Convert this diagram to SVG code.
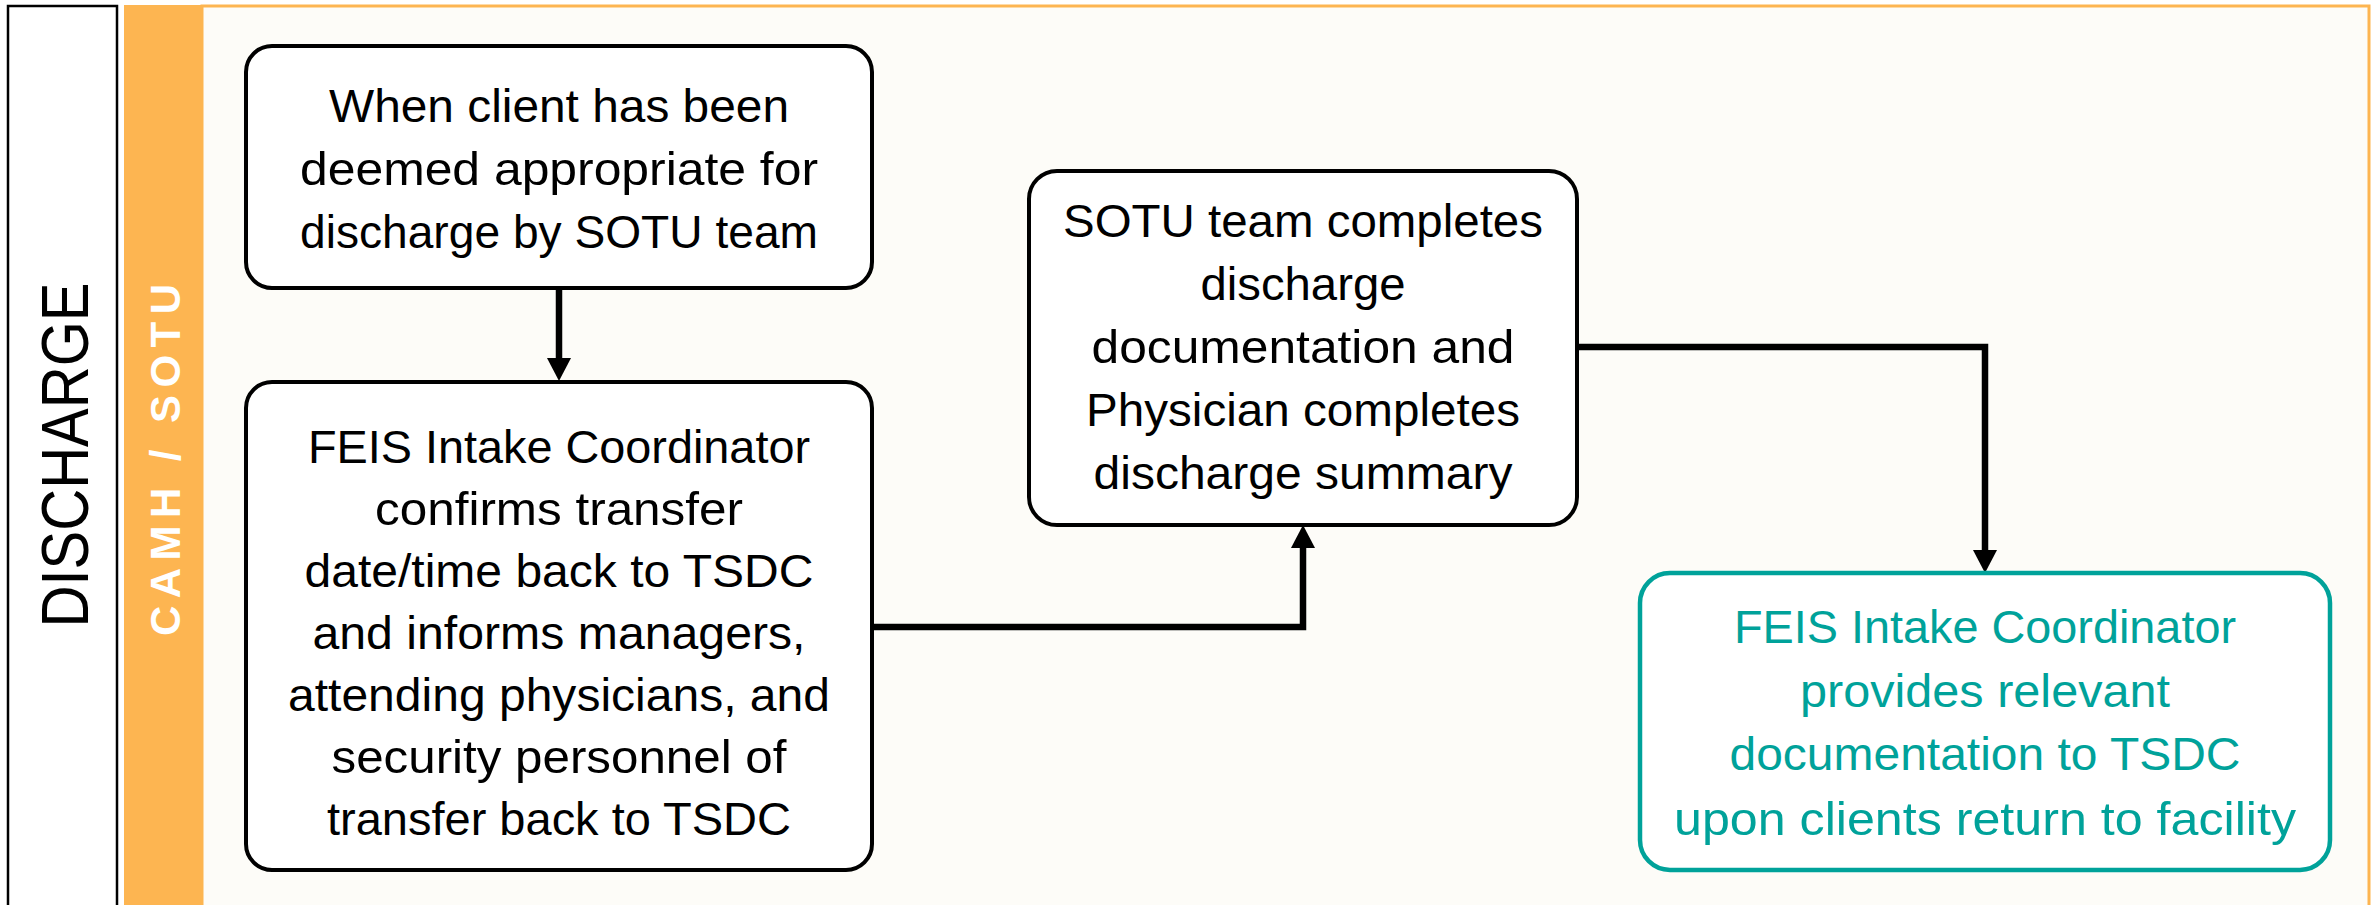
<svg xmlns="http://www.w3.org/2000/svg" width="2379" height="905" viewBox="0 0 2379 905">
  <style>
    .lane-title { font-family: "Liberation Sans", Arial, sans-serif; font-size: 67px; fill: #000; }
    .lane-sub { font-family: "Liberation Sans", Arial, sans-serif; font-size: 42px; font-weight: bold; fill: #fff; }
    .box { fill: #fff; stroke: #000; stroke-width: 4; }
    .box-teal { fill: #fff; stroke: #00a29a; stroke-width: 4.5; }
    .lbl { font-family: "Liberation Sans", Arial, sans-serif; font-size: 47px; fill: #000; text-anchor: middle; }
    .lbl-teal { fill: #00a29a; }
    .conn { fill: none; stroke: #000; stroke-width: 6.5; stroke-linejoin: miter; }
  </style>
  <defs>
    <marker id="arrow" markerUnits="userSpaceOnUse" markerWidth="24" markerHeight="24" refX="0" refY="12" orient="auto" viewBox="0 0 24 24">
      <path d="M0,0 L23,12 L0,24 Z" fill="#000"/>
    </marker>
  </defs>

  <!-- swimlane frame -->
  <g id="lane">
    <rect x="8" y="6" width="109" height="920" fill="#fff" stroke="#000" stroke-width="2.5"/>
    <rect x="124" y="5" width="78" height="920" fill="#fdb551"/>
    <rect x="202" y="6" width="2167" height="920" fill="#fdfcf8" stroke="#fdb551" stroke-width="3"/>
    <text class="lane-title" transform="translate(88,455) rotate(-90)" text-anchor="middle" textLength="345" lengthAdjust="spacingAndGlyphs">DISCHARGE</text>
    <text class="lane-sub" transform="translate(180,460) rotate(-90)" text-anchor="middle" textLength="352" lengthAdjust="spacing">CAMH / SOTU</text>
  </g>

  <!-- connectors -->
  <g id="connectors">
    <path class="conn" d="M559,288 L559,358" marker-end="url(#arrow)"/>
    <path class="conn" d="M872,627 L1303,627 L1303,548" marker-end="url(#arrow)"/>
    <path class="conn" d="M1577,347 L1985,347 L1985,550" marker-end="url(#arrow)"/>
  </g>

  <g id="node-deemed">
    <rect class="box" x="246" y="46" width="626" height="242" rx="26"/>
    <text class="lbl" x="559" y="122" textLength="460" lengthAdjust="spacingAndGlyphs">When client has been</text>
    <text class="lbl" x="559" y="185" textLength="518" lengthAdjust="spacingAndGlyphs">deemed appropriate for</text>
    <text class="lbl" x="559" y="248" textLength="518" lengthAdjust="spacingAndGlyphs">discharge by SOTU team</text>
  </g>

  <g id="node-confirm">
    <rect class="box" x="246" y="382" width="626" height="488" rx="26"/>
    <text class="lbl" x="559" y="463" textLength="502" lengthAdjust="spacingAndGlyphs">FEIS Intake Coordinator</text>
    <text class="lbl" x="559" y="525" textLength="368" lengthAdjust="spacingAndGlyphs">confirms transfer</text>
    <text class="lbl" x="559" y="587" textLength="509" lengthAdjust="spacingAndGlyphs">date/time back to TSDC</text>
    <text class="lbl" x="559" y="649" textLength="493" lengthAdjust="spacingAndGlyphs">and informs managers,</text>
    <text class="lbl" x="559" y="711" textLength="542" lengthAdjust="spacingAndGlyphs">attending physicians, and</text>
    <text class="lbl" x="559" y="773" textLength="455" lengthAdjust="spacingAndGlyphs">security personnel of</text>
    <text class="lbl" x="559" y="835" textLength="464" lengthAdjust="spacingAndGlyphs">transfer back to TSDC</text>
  </g>

  <g id="node-documentation">
    <rect class="box" x="1029" y="171" width="548" height="354" rx="28"/>
    <text class="lbl" x="1303" y="237" textLength="480" lengthAdjust="spacingAndGlyphs">SOTU team completes</text>
    <text class="lbl" x="1303" y="300" textLength="205" lengthAdjust="spacingAndGlyphs">discharge</text>
    <text class="lbl" x="1303" y="363" textLength="423" lengthAdjust="spacingAndGlyphs">documentation and</text>
    <text class="lbl" x="1303" y="426" textLength="434" lengthAdjust="spacingAndGlyphs">Physician completes</text>
    <text class="lbl" x="1303" y="489" textLength="419" lengthAdjust="spacingAndGlyphs">discharge summary</text>
  </g>

  <g id="node-return">
    <rect class="box-teal" x="1640" y="573" width="690" height="297" rx="30"/>
    <text class="lbl lbl-teal" x="1985" y="643" textLength="502" lengthAdjust="spacingAndGlyphs">FEIS Intake Coordinator</text>
    <text class="lbl lbl-teal" x="1985" y="707" textLength="370" lengthAdjust="spacingAndGlyphs">provides relevant</text>
    <text class="lbl lbl-teal" x="1985" y="770" textLength="511" lengthAdjust="spacingAndGlyphs">documentation to TSDC</text>
    <text class="lbl lbl-teal" x="1985" y="835" textLength="622" lengthAdjust="spacingAndGlyphs">upon clients return to facility</text>
  </g>
</svg>
